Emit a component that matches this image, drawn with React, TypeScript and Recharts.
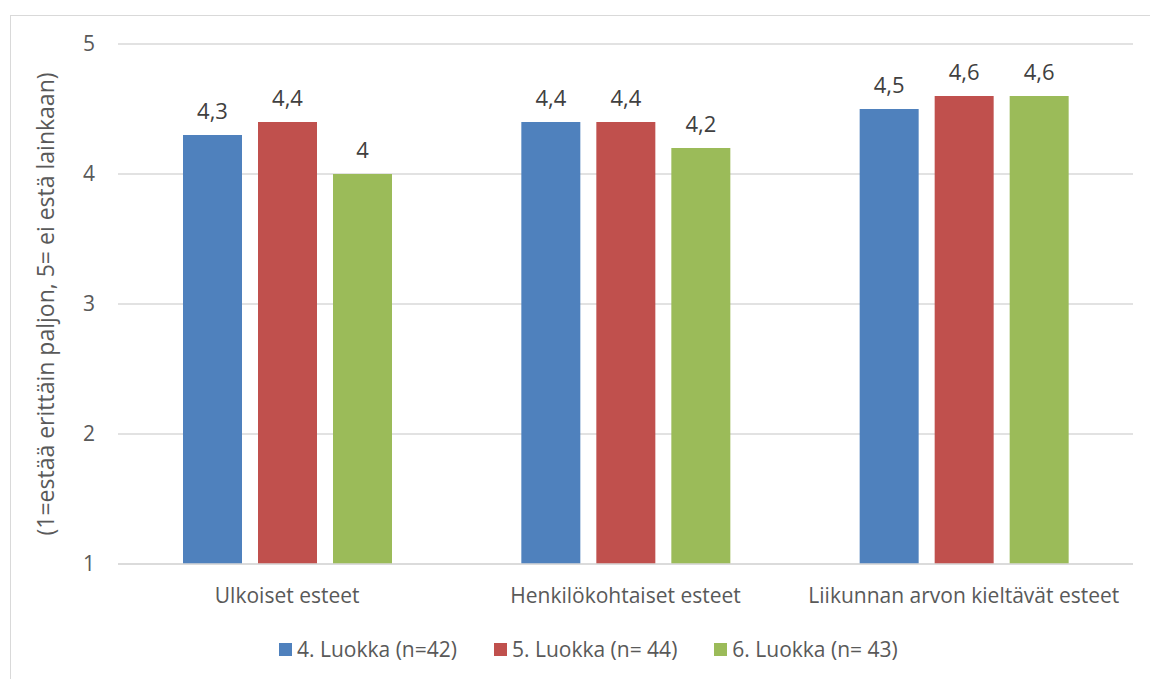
import { BarChart, Bar, XAxis, YAxis, CartesianGrid, LabelList } from "recharts";

// categories (x axis)
const categories = [
  "Ulkoiset esteet",
  "Henkilökohtaiset esteet",
  "Liikunnan arvon kieltävät esteet",
];

// mean score per grade, same order as categories
const grade4 = [4.3, 4.4, 4.5];
const grade5 = [4.4, 4.4, 4.6];
const grade6 = [4.0, 4.2, 4.6];

const seriesNames = ["4. Luokka (n=42)", "5. Luokka (n= 44)", "6. Luokka (n= 43)"];
const seriesColors = ["#4f81bd", "#c0504d", "#9bbb59"];
const seriesKeys = ["g4", "g5", "g6"];

const yTicks = [1, 2, 3, 4, 5];
const yLabel = "(1=estää erittäin paljon, 5= ei estä lainkaan)";

const data = categories.map((name, i) => ({
  name,
  g4: grade4[i],
  g5: grade5[i],
  g6: grade6[i],
}));

const FONT = "'Open Sans', 'Noto Sans', sans-serif";
const AXIS_TEXT = "#595959";

const decimalComma = (v: any) => String(v).replace(".", ",");

const YTitle = ({ viewBox }: any) => {
  const cx = 45;
  const cy = viewBox ? viewBox.y + viewBox.height / 2 : 304;
  return (
    <text
      x={cx}
      y={cy}
      transform={`rotate(-90, ${cx}, ${cy})`}
      textAnchor="middle"
      dominantBaseline="central"
      fill={AXIS_TEXT}
      fontSize={23}
    >
      {yLabel}
    </text>
  );
};

export default function App() {
  return (
    <div
      style={{
        position: "fixed",
        top: 0,
        left: 0,
        width: 1150,
        height: 679,
        overflow: "hidden",
        background: "#fff",
        fontFamily: FONT,
      }}
    >
      {/* chart area frame */}
      <div
        style={{
          position: "absolute",
          left: 10,
          top: 15,
          width: 1200,
          height: 700,
          border: "1px solid #d9d9d9",
        }}
      />
      <div style={{ position: "absolute", left: 0, top: 0 }}>
        <BarChart
          width={1150}
          height={679}
          data={data}
          margin={{ top: 44, right: 17, left: 0, bottom: 85 }}
          barSize={59}
          barGap={16}
        >
          <CartesianGrid vertical={false} stroke="#d9d9d9" strokeWidth={1.3} />
          <XAxis
            dataKey="name"
            tickLine={false}
            axisLine={{ stroke: "#d9d9d9", strokeWidth: 1.3 }}
            tickMargin={18}
            tick={{ fill: AXIS_TEXT, fontSize: 21 }}
            interval={0}
          />
          <YAxis
            type="number"
            domain={[1, 5]}
            ticks={yTicks}
            width={118}
            tickLine={false}
            axisLine={false}
            tickMargin={17}
            tick={{ fill: AXIS_TEXT, fontSize: 21 }}
            label={<YTitle />}
          />
          {seriesKeys.map((key, i) => (
            <Bar
              key={key}
              dataKey={key}
              name={seriesNames[i]}
              fill={seriesColors[i]}
              isAnimationActive={false}
            >
              <LabelList
                dataKey={key}
                position="top"
                offset={16}
                formatter={decimalComma}
                fill="#404040"
                fontSize={22}
              />
            </Bar>
          ))}
        </BarChart>
      </div>
      {/* legend */}
      <div
        style={{
          position: "absolute",
          left: 279,
          top: 636,
          display: "flex",
          alignItems: "center",
          height: 26,
          color: AXIS_TEXT,
          fontSize: 21,
          whiteSpace: "nowrap",
        }}
      >
        {seriesNames.map((n, i) => (
          <div
            key={n}
            style={{ display: "flex", alignItems: "center", marginRight: i < 2 ? 37 : 0 }}
          >
            <span
              style={{
                display: "inline-block",
                width: 13,
                height: 13,
                background: seriesColors[i],
                marginRight: 5,
              }}
            />
            <span>{n}</span>
          </div>
        ))}
      </div>
    </div>
  );
}
